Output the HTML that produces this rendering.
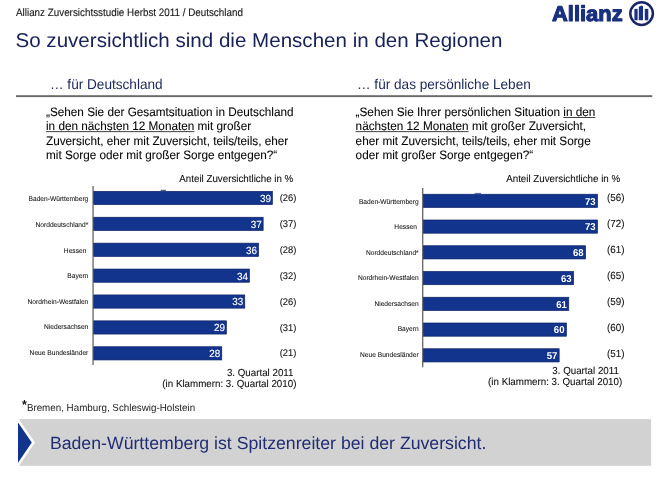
<!DOCTYPE html>
<html lang="de"><head><meta charset="utf-8"><title>Allianz Zuversichtsstudie Herbst 2011 / Deutschland</title>
<style>
html,body{margin:0;padding:0;background:#fff;}
body{width:668px;height:496px;overflow:hidden;font-family:"Liberation Sans",Arial,sans-serif;}
svg{display:block;}
text{font-family:"Liberation Sans",Arial,sans-serif;}
.q{font-size:11.75px;fill:#050505;stroke:#050505;stroke-width:0.08px;}
.s{font-size:9.77px;fill:#0d0d0d;stroke:#0d0d0d;stroke-width:0.08px;}
.p{font-size:9.4px;fill:#0d0d0d;stroke:#0d0d0d;stroke-width:0.08px;}
.lab{font-size:6.65px;fill:#111;text-anchor:end;stroke:#111;stroke-width:0.06px;}
.val{font-size:9.9px;fill:#fff;text-anchor:end;stroke:#fff;stroke-width:0.12px;}
.valb{font-size:9.6px;fill:#fff;text-anchor:end;font-weight:bold;}
.sub{font-size:13.6px;fill:#1f2a60;}
.u{text-decoration:underline;text-decoration-thickness:0.75px;text-underline-offset:1.3px;}
</style></head><body>
<svg width="668" height="496" viewBox="0 0 668 496" text-rendering="geometricPrecision">
<rect width="668" height="496" fill="#fff"/>

<text transform="translate(16.0 15.6) scale(1 1.1)" style="font-size:9.85px;fill:#1a1a1a;" stroke="#1a1a1a" stroke-width="0.12">Allianz Zuversichtsstudie Herbst 2011 / Deutschland</text>
<text transform="translate(15.5 47.0) scale(1 0.97)" style="font-size:20.57px;fill:#17215a;">So zuversichtlich sind die Menschen in den Regionen</text>
<text x="552" y="20.6" font-size="21.5" font-weight="bold" textLength="70.6" lengthAdjust="spacingAndGlyphs" fill="#18307f" stroke="#18307f" stroke-width="1.1" stroke-linejoin="round">Allianz</text>
<circle cx="641.6" cy="13.6" r="11.3" fill="none" stroke="#1a2566" stroke-width="2.5"/>
<g fill="#1a3088"><rect x="634.4" y="8.9" width="3.2" height="11.4"/><path d="M638.8 6.8 L641.6 5.4 L643 6.2 L643 20.3 L638.8 20.3 Z"/><rect x="644.8" y="8.9" width="3.5" height="11.4"/></g>
<text transform="translate(50.0 88.7) scale(1 1.04)" class="sub">… für Deutschland</text>
<text transform="translate(357.0 88.7) scale(1 1.04)" class="sub">… für das persönliche Leben</text>
<rect x="16" y="95.2" width="636.3" height="1.9" fill="#6a6a6a"/>
<text transform="translate(46.0 116.2) scale(1 1.04)" class="q">„Sehen Sie der Gesamtsituation in Deutschland</text>
<text transform="translate(46.0 130.4) scale(1 1.04)" class="q">in den nächsten 12 Monaten mit großer</text>
<text transform="translate(46.0 144.6) scale(1 1.04)" class="q">Zuversicht, eher mit Zuversicht, teils/teils, eher</text>
<text transform="translate(46.0 158.8) scale(1 1.04)" class="q">mit Sorge oder mit großer Sorge entgegen?“</text>
<text transform="translate(355.6 116.2) scale(1 1.04)" class="q">„Sehen Sie Ihrer persönlichen Situation in den</text>
<text transform="translate(355.6 130.4) scale(1 1.04)" class="q">nächsten 12 Monaten mit großer Zuversicht,</text>
<text transform="translate(355.6 144.6) scale(1 1.04)" class="q">eher mit Zuversicht, teils/teils, eher mit Sorge</text>
<text transform="translate(355.6 158.8) scale(1 1.04)" class="q">oder mit großer Sorge entgegen?“</text>
<rect x="46" y="131.3" width="148.3" height="0.8" fill="#111"/>
<rect x="563.3" y="117.1" width="32" height="0.8" fill="#111"/>
<rect x="355.6" y="131.3" width="113" height="0.8" fill="#111"/>
<text transform="translate(179.3 182.0) scale(1 1.04)" class="s">Anteil Zuversichtliche in %</text>
<text transform="translate(506.2 182.0) scale(1 1.04)" class="s">Anteil Zuversichtliche in %</text>
<rect x="93.65" y="191.35" width="178.7" height="13.2" fill="#12348c" stroke="#0e2268" stroke-width="0.7"/>
<text transform="translate(88.3 201.3) scale(1 1.04)" class="lab">Baden-Württemberg</text>
<text transform="translate(270.9 201.8) scale(1 1.04)" class="val">39</text>
<text transform="translate(279.7 201.0) scale(1 1.04)" class="p">(26)</text>
<rect x="93.65" y="217.25" width="169.5" height="13.2" fill="#12348c" stroke="#0e2268" stroke-width="0.7"/>
<text transform="translate(88.3 226.9) scale(1 1.04)" class="lab">Norddeutschland*</text>
<text transform="translate(261.7 227.7) scale(1 1.04)" class="val">37</text>
<text transform="translate(279.7 226.9) scale(1 1.04)" class="p">(37)</text>
<rect x="93.65" y="243.15" width="164.9" height="13.2" fill="#12348c" stroke="#0e2268" stroke-width="0.7"/>
<text transform="translate(86.4 252.5) scale(1 1.04)" class="lab">Hessen</text>
<text transform="translate(257.1 253.6) scale(1 1.04)" class="val">36</text>
<text transform="translate(279.7 252.8) scale(1 1.04)" class="p">(28)</text>
<rect x="93.65" y="269.05" width="155.7" height="13.2" fill="#12348c" stroke="#0e2268" stroke-width="0.7"/>
<text transform="translate(88.3 278.1) scale(1 1.04)" class="lab">Bayern</text>
<text transform="translate(247.9 279.5) scale(1 1.04)" class="val">34</text>
<text transform="translate(279.7 278.7) scale(1 1.04)" class="p">(32)</text>
<rect x="93.65" y="294.95" width="151.1" height="13.2" fill="#12348c" stroke="#0e2268" stroke-width="0.7"/>
<text transform="translate(88.3 303.7) scale(1 1.04)" class="lab">Nordrhein-Westfalen</text>
<text transform="translate(243.3 305.4) scale(1 1.04)" class="val">33</text>
<text transform="translate(279.7 304.6) scale(1 1.04)" class="p">(26)</text>
<rect x="93.65" y="320.85" width="132.7" height="13.2" fill="#12348c" stroke="#0e2268" stroke-width="0.7"/>
<text transform="translate(88.3 329.3) scale(1 1.04)" class="lab">Niedersachsen</text>
<text transform="translate(224.9 331.3) scale(1 1.04)" class="val">29</text>
<text transform="translate(279.7 330.5) scale(1 1.04)" class="p">(31)</text>
<rect x="93.65" y="346.75" width="128.1" height="13.2" fill="#12348c" stroke="#0e2268" stroke-width="0.7"/>
<text transform="translate(88.3 354.9) scale(1 1.04)" class="lab">Neue Bundesländer</text>
<text transform="translate(220.3 357.2) scale(1 1.04)" class="val">28</text>
<text transform="translate(279.7 356.4) scale(1 1.04)" class="p">(21)</text>
<rect x="92.5" y="186" width="1.1" height="179" fill="#4a4a4a"/>
<rect x="160.6" y="189.8" width="5.4" height="1" fill="#2a3f80"/>
<rect x="423.35" y="194.25" width="174.1" height="13.2" fill="#12348c" stroke="#0e2268" stroke-width="0.7"/>
<text transform="translate(418.7 203.6) scale(1 1.04)" class="lab">Baden-Württemberg</text>
<text transform="translate(595.6 204.5) scale(1 1.04)" class="valb">73</text>
<text transform="translate(607.0 200.6) scale(1 1.04)" class="p" style="font-size:9.84px;">(56)</text>
<rect x="423.35" y="220.00" width="174.1" height="13.2" fill="#12348c" stroke="#0e2268" stroke-width="0.7"/>
<text transform="translate(416.9 229.2) scale(1 1.04)" class="lab">Hessen</text>
<text transform="translate(595.6 230.2) scale(1 1.04)" class="valb">73</text>
<text transform="translate(607.0 226.6) scale(1 1.04)" class="p" style="font-size:9.84px;">(72)</text>
<rect x="423.35" y="245.75" width="162.2" height="13.2" fill="#12348c" stroke="#0e2268" stroke-width="0.7"/>
<text transform="translate(418.7 254.7) scale(1 1.04)" class="lab">Norddeutschland*</text>
<text transform="translate(583.7 256.0) scale(1 1.04)" class="valb">68</text>
<text transform="translate(607.0 252.6) scale(1 1.04)" class="p" style="font-size:9.84px;">(61)</text>
<rect x="423.35" y="271.50" width="150.2" height="13.2" fill="#12348c" stroke="#0e2268" stroke-width="0.7"/>
<text transform="translate(418.7 280.2) scale(1 1.04)" class="lab">Nordrhein-Westfalen</text>
<text transform="translate(571.7 281.8) scale(1 1.04)" class="valb">63</text>
<text transform="translate(607.0 278.6) scale(1 1.04)" class="p" style="font-size:9.84px;">(65)</text>
<rect x="423.35" y="297.25" width="145.4" height="13.2" fill="#12348c" stroke="#0e2268" stroke-width="0.7"/>
<text transform="translate(418.7 305.8) scale(1 1.04)" class="lab">Niedersachsen</text>
<text transform="translate(566.9 307.5) scale(1 1.04)" class="valb">61</text>
<text transform="translate(607.0 304.6) scale(1 1.04)" class="p" style="font-size:9.84px;">(59)</text>
<rect x="423.35" y="323.00" width="143.0" height="13.2" fill="#12348c" stroke="#0e2268" stroke-width="0.7"/>
<text transform="translate(418.7 331.4) scale(1 1.04)" class="lab">Bayern</text>
<text transform="translate(564.5 333.2) scale(1 1.04)" class="valb">60</text>
<text transform="translate(607.0 330.6) scale(1 1.04)" class="p" style="font-size:9.84px;">(60)</text>
<rect x="423.35" y="348.75" width="135.8" height="13.2" fill="#12348c" stroke="#0e2268" stroke-width="0.7"/>
<text transform="translate(418.7 356.9) scale(1 1.04)" class="lab">Neue Bundesländer</text>
<text transform="translate(557.3 359.0) scale(1 1.04)" class="valb">57</text>
<text transform="translate(607.0 356.6) scale(1 1.04)" class="p" style="font-size:9.84px;">(51)</text>
<rect x="422.2" y="188" width="1.1" height="179.3" fill="#4a4a4a"/>
<rect x="474.6" y="192.9" width="6.4" height="0.9" fill="#3a4f90"/>
<text transform="translate(293.5 375.6) scale(1 1.04)" class="s" style="text-anchor:end;">3. Quartal 2011</text>
<text transform="translate(296.4 387.1) scale(1 1.04)" class="s" style="text-anchor:end;">(in Klammern: 3. Quartal 2010)</text>
<text transform="translate(618.9 374.1) scale(1 1.04)" class="s" style="text-anchor:end;">3. Quartal 2011</text>
<text transform="translate(622.2 385.1) scale(1 1.04)" class="s" style="text-anchor:end;">(in Klammern: 3. Quartal 2010)</text>
<text transform="translate(22.0 411.1) scale(1 1.04)" style="font-size:9.8px;fill:#1a1a1a;"><tspan font-size="12.5" font-weight="bold" dy="-1.6">*</tspan><tspan dy="1.6">Bremen, Hamburg, Schleswig-Holstein</tspan></text>
<rect x="19.3" y="419.1" width="631.8" height="46.7" fill="#d2d2d2"/>
<polygon points="16,418.1 18,418.1 34.9,442.6 18,467.2 16,467.2" fill="#fff"/>
<polygon points="18,422.5 31.8,442.6 18,462.8" fill="#12348c"/>
<text transform="translate(49.9 449.0) scale(1 1.0)" style="font-size:17.7px;fill:#212d72;">Baden-Württemberg ist Spitzenreiter bei der Zuversicht.</text>
</svg>
</body></html>
